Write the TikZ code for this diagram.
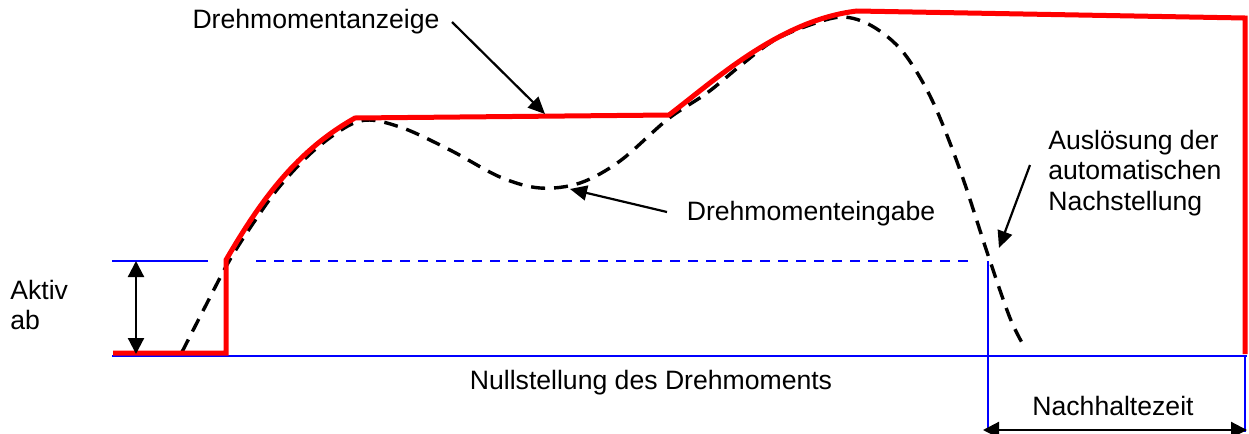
\documentclass[tikz,border=0pt]{standalone}
\usepackage{fontspec}
\setmainfont{Liberation Sans}
\usetikzlibrary{arrows.meta}
\begin{document}
\begin{tikzpicture}[x=0.5pt,y=-0.5pt,
  lbl/.style={inner sep=0pt,font=\fontsize{13.3}{15.3}\selectfont},
  redline/.style={draw={rgb,255:red,255;green,0;blue,0},line width=2.5pt,line join=miter},
  blueline/.style={draw={rgb,255:red,0;green,0;blue,255},line width=0.75pt},
  dashcurve/.style={draw=black,line width=1.7pt,dash pattern=on 7pt off 4.5pt},
  ptr/.style={draw=black,line width=1.1pt,-{Triangle[length=8.5pt,width=7.5pt]}},
  dbl/.style={draw=black,line width=1.1pt,{Triangle[length=8pt,width=8pt]}-{Triangle[length=8pt,width=8pt]}}]
\useasboundingbox (0,0) rectangle (1249,434);
% blue reference lines
\draw[blueline] (112,356) -- (1247,356);
\draw[blueline] (112,261) -- (208,261);
\draw[blueline,dash pattern=on 5pt off 4pt] (256,261) -- (972,261);
\draw[blueline] (988,261) -- (988,432);
\draw[blueline] (1245,356) -- (1245,432);
% dashed input curve
\draw[dashcurve] plot[smooth,tension=0.55] coordinates {(182,352) (205,307) (228,263) (250,228) (280,186) (318,147) (360,121) (400,127) (450,150) (500,177) (540,188) (580,183) (620,161) (668,119) (707,93) (740,66) (773,41) (807,26) (842,17) (872,26) (903,52) (932,100) (960,170) (988,255) (1010,318) (1025,348)};
% red display curve
\draw[redline] (113,353) -- (226,353) -- (226,260) .. controls (262,198) and (298,150) .. (355,118) -- (669,115) .. controls (715,80) and (780,20) .. (857,11) -- (1245,18) -- (1245,354);
% labels
\node[lbl] (anz) at (316,22) {Drehmomentanzeige};
\node[lbl] (ein) at (811,214) {Drehmomenteingabe};
\node[lbl,anchor=west,align=left] (ausl) at (1048,173) {Auslösung der\\automatischen\\Nachstellung};
\node[lbl,anchor=west,align=left] (akt) at (10,305) {Aktiv\\ab};
\node[lbl] (null) at (651,383) {Nullstellung des Drehmoments};
\node[lbl] (nach) at (1113,406) {Nachhaltezeit};
% pointer arrows
\coordinate (a1) at (452,22); \coordinate (a1t) at (545,114);
\coordinate (a2) at (667,212); \coordinate (a2t) at (570,189);
\coordinate (a3) at (1030,165); \coordinate (a3t) at (999,248);
\draw[ptr] (a1) -- (a1t);
\draw[ptr] (a2) -- (a2t);
\draw[ptr] (a3) -- (a3t);
% dimension arrows
\coordinate (d1) at (136,261); \coordinate (d2) at (136,354);
\coordinate (d3) at (983,430); \coordinate (d4) at (1247,430);
\draw[dbl] (d1) -- (d2);
\draw[dbl] (d3) -- (d4);
\end{tikzpicture}
\end{document}
